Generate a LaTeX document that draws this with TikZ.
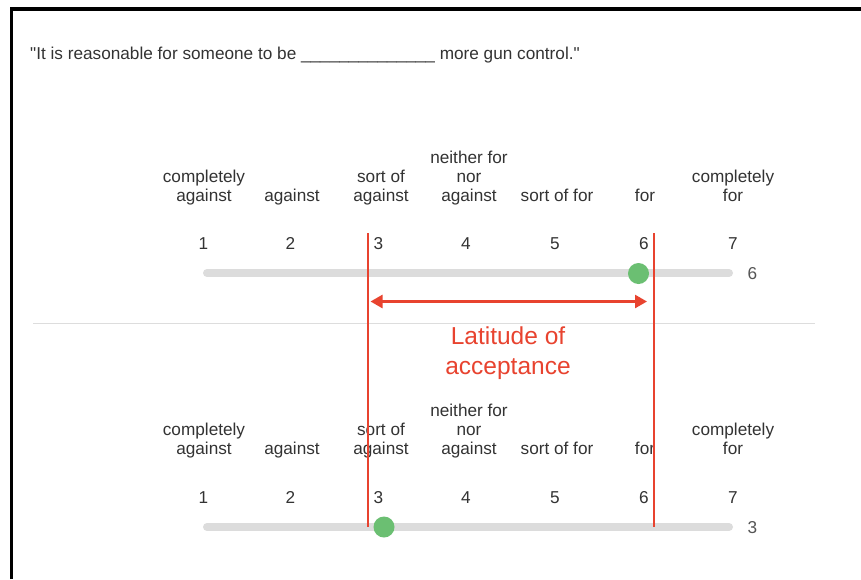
\documentclass[tikz,border=0pt]{standalone}
\usepackage{fontspec}
\setmainfont{Liberation Sans}[Ligatures=TeXOff]
\usetikzlibrary{arrows.meta}
\definecolor{txt}{HTML}{333333}
\definecolor{valtxt}{HTML}{555555}
\definecolor{redl}{HTML}{E8432F}
\definecolor{grn}{HTML}{6BBF72}
\definecolor{trk}{HTML}{DCDCDC}
\definecolor{sepc}{HTML}{DDDDDD}
\begin{document}
\begin{tikzpicture}[x=1pt,y=-1pt,
  lbl/.style={font=\fontsize{17.2}{19}\selectfont, text=txt, align=center, anchor=south, inner sep=0pt},
  num/.style={font=\fontsize{17.2}{19}\selectfont, text=txt, inner sep=0pt, anchor=base},
  val/.style={font=\fontsize{17.2}{19}\selectfont, text=valtxt, inner sep=0pt, anchor=base},
  track/.style={line width=8pt, trk, line cap=round},
  knob/.style={circle, fill=grn, minimum size=21pt, inner sep=0pt},
  redline/.style={redl, line width=2.5pt},
  latarrow/.style={redl, line width=2.5pt, {Triangle[length=12pt,width=13pt]}-{Triangle[length=12pt,width=13pt]}},
  lattext/.style={font=\fontsize{24.5}{30}\selectfont, text=redl, align=center, inner sep=0pt}
]
\useasboundingbox (0,0) rectangle (861,579);
\fill[white] (0,0) rectangle (861,579);
% frame
\draw[line width=3.8pt] (11.5,579) -- (11.5,9) -- (861,9);
% title
\node[font=\fontsize{17.2}{19}\selectfont, text=txt, anchor=base west, inner sep=0pt] (title) at (30,59)
  {"It is reasonable for someone to be \_\_\_\_\_\_\_\_\_\_\_\_\_\_ more gun control."};
% separator
\draw[sepc, line width=1pt] (33,323) -- (815,323);

% ---- top scale ----
\node[lbl] (ta1) at (204,205) {completely\\against\vphantom{g}};
\node[lbl] (ta2) at (292,205) {against\vphantom{g}};
\node[lbl] (ta3) at (381,205) {sort of\\against\vphantom{g}};
\node[lbl] (ta4) at (469,205) {neither for\\nor\\against\vphantom{g}};
\node[lbl] (ta5) at (557,205) {sort of for\vphantom{g}};
\node[lbl] (ta6) at (645,205) {for\vphantom{g}};
\node[lbl] (ta7) at (733,205) {completely\\for\vphantom{g}};
\node[num] (tn1) at (203.5,249) {1};
\node[num] (tn2) at (290.5,249) {2};
\node[num] (tn3) at (378.5,249) {3};
\node[num] (tn4) at (466,249) {4};
\node[num] (tn5) at (555,249) {5};
\node[num] (tn6) at (644,249) {6};
\node[num] (tn7) at (733,249) {7};
\coordinate (tl) at (207,273);
\coordinate (tr) at (729,273);
\draw[track] (tl) -- (tr);
\node[val] (tv) at (752.5,279.5) {6};
\node[knob] (tk) at (638.5,273.5) {};

% ---- bottom scale ----
\node[lbl] (ba1) at (204,458.5) {completely\\against\vphantom{g}};
\node[lbl] (ba2) at (292,458.5) {against\vphantom{g}};
\node[lbl] (ba3) at (381,458.5) {sort of\\against\vphantom{g}};
\node[lbl] (ba4) at (469,458.5) {neither for\\nor\\against\vphantom{g}};
\node[lbl] (ba5) at (557,458.5) {sort of for\vphantom{g}};
\node[lbl] (ba6) at (645,458.5) {for\vphantom{g}};
\node[lbl] (ba7) at (733,458.5) {completely\\for\vphantom{g}};
\node[num] (bn1) at (203.5,503) {1};
\node[num] (bn2) at (290.5,503) {2};
\node[num] (bn3) at (378.5,503) {3};
\node[num] (bn4) at (466,503) {4};
\node[num] (bn5) at (555,503) {5};
\node[num] (bn6) at (644,503) {6};
\node[num] (bn7) at (733,503) {7};
\coordinate (bl) at (207,527);
\coordinate (br) at (729,527);
\draw[track] (bl) -- (br);
\node[val] (bv) at (752.5,533.5) {3};

% ---- latitude of acceptance ----
\coordinate (rlt) at (368,233);
\coordinate (rlb) at (368,527);
\coordinate (rrt) at (654,233);
\coordinate (rrb) at (654,527);
\draw[redline] (rlt) -- (rlb);
\draw[redline] (rrt) -- (rrb);
\node[knob] (bk) at (384,527) {};
\coordinate (al) at (370.5,301.5);
\coordinate (ar) at (647,301.5);
\draw[latarrow] (al) -- (ar);
\node[lattext] (lat) at (508,353) {Latitude of\\acceptance};
\end{tikzpicture}
\end{document}
